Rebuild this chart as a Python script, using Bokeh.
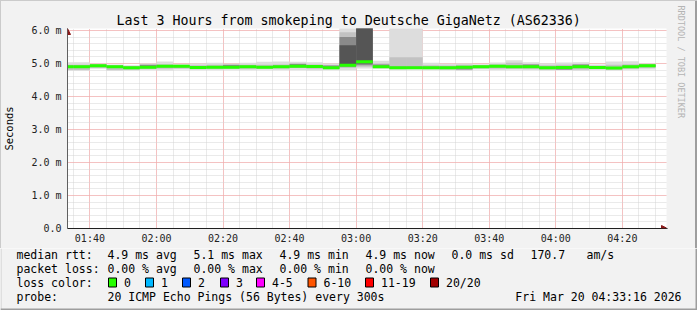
import pandas as pd
from bokeh.plotting import figure
from bokeh.layouts import column
from bokeh.models import ColumnDataSource, FixedTicker, Range1d, Title, Arrow, NormalHead
from bokeh.core.properties import value
from bokeh.embed import file_html
from bokeh.resources import INLINE

# ---------------- data ----------------
title_text = "Last 3 Hours from smokeping to Deutsche GigaNetz (AS62336)"
graph_end = "04:33:16"
span_minutes = 180
step_minutes = 5
step_ends = [t.strftime("%H:%M") for t in pd.date_range("2026-03-20 01:35", "2026-03-20 04:30", freq="5min")]

# median rtt per 5-minute step (ms)
median = [4.90, 4.90, 4.93, 4.90, 4.87, 4.89, 4.92, 4.92, 4.88, 4.89, 4.89, 4.90,
          4.89, 4.90, 4.92, 4.91, 4.87, 4.95, 5.05, 4.90, 4.87, 4.87, 4.87, 4.87,
          4.89, 4.90, 4.92, 4.90, 4.90, 4.87, 4.88, 4.90, 4.88, 4.86, 4.90, 4.93]
# smoke: min / max ping
ping_min = [4.78, 4.78, 4.84, 4.77, 4.79, 4.80, 4.79, 4.82, 4.80, 4.80, 4.81, 4.80,
            4.81, 4.80, 4.80, 4.79, 4.80, 4.80, 4.85, 4.84, 4.81, 4.82, 4.81, 4.80,
            4.78, 4.82, 4.80, 4.81, 4.80, 4.79, 4.80, 4.78, 4.80, 4.79, 4.81, 4.82]
ping_max = [5.04, 5.04, 4.99, 4.97, 4.95, 5.00, 5.06, 4.98, 5.00, 5.02, 4.99, 5.02,
            5.05, 5.06, 5.05, 5.04, 5.00, 6.50, 6.50, 5.08, 6.50, 6.50, 5.02, 4.99,
            5.00, 4.98, 5.03, 5.10, 5.04, 5.01, 5.03, 5.04, 4.97, 5.06, 5.07, 5.00]
# inner smoke layers
ping_q1 = [4.80, 4.80, 4.86, 4.80, 4.81, 4.83, 4.84, 4.85, 4.83, 4.83, 4.84, 4.84,
           4.84, 4.85, 4.86, 4.84, 4.83, 4.86, 4.90, 4.86, 4.84, 4.84, 4.83, 4.82,
           4.81, 4.85, 4.84, 4.84, 4.84, 4.81, 4.83, 4.82, 4.83, 4.81, 4.84, 4.86]
ping_q3 = [4.96, 4.96, 4.97, 4.94, 4.92, 4.96, 4.98, 4.96, 4.95, 4.96, 4.95, 4.96,
           4.96, 4.97, 4.98, 4.97, 4.95, 5.95, 6.50, 5.00, 5.19, 5.19, 4.95, 4.94,
           4.96, 4.95, 4.98, 5.02, 4.98, 4.95, 4.96, 4.98, 4.93, 4.96, 4.98, 4.98]
ping_m_lo = [4.87, 4.87, 4.90, 4.87, 4.84, 4.86, 4.89, 4.89, 4.85, 4.86, 4.86, 4.87,
             4.86, 4.87, 4.89, 4.88, 4.84, 4.90, 4.95, 4.87, 4.84, 4.84, 4.84, 4.84,
             4.82, 4.87, 4.89, 4.87, 4.87, 4.84, 4.81, 4.87, 4.85, 4.83, 4.87, 4.90]
ping_m_hi = [4.93, 4.93, 4.96, 4.93, 4.90, 4.96, 4.95, 4.95, 4.91, 4.92, 4.96, 4.93,
             4.92, 4.93, 4.99, 4.94, 4.94, 5.80, 6.50, 4.97, 4.90, 4.90, 4.90, 4.90,
             4.92, 4.93, 4.95, 4.93, 4.97, 4.90, 4.91, 4.97, 4.91, 4.89, 4.93, 4.96]
ping_d_lo = [4.90, 4.90, 4.93, 4.90, 4.87, 4.89, 4.92, 4.92, 4.88, 4.89, 4.89, 4.90,
             4.89, 4.90, 4.92, 4.91, 4.87, 4.93, 5.00, 4.90, 4.87, 4.87, 4.87, 4.87,
             4.89, 4.90, 4.92, 4.90, 4.90, 4.87, 4.88, 4.90, 4.88, 4.86, 4.90, 4.93]
ping_d_hi = [4.90, 4.90, 4.93, 4.90, 4.87, 4.89, 4.92, 4.92, 4.88, 4.89, 4.89, 4.90,
             4.89, 4.90, 4.92, 4.91, 4.87, 5.55, 6.50, 4.90, 4.87, 4.87, 4.87, 4.87,
             4.89, 4.90, 4.92, 4.90, 4.90, 4.87, 4.88, 4.90, 4.88, 4.86, 4.90, 4.93]

x_tick_labels = ["01:40", "02:00", "02:20", "02:40", "03:00", "03:20", "03:40", "04:00", "04:20"]
y_ticks = [0, 1, 2, 3, 4, 5, 6]
y_tick_labels = ["0.0", "1.0 m", "2.0 m", "3.0 m", "4.0 m", "5.0 m", "6.0 m"]

legend_row1 = ["median rtt:", "4.9 ms avg", "5.1 ms max", "4.9 ms min", "4.9 ms now", "0.0 ms sd", "170.7", "am/s"]
legend_row2 = ["packet loss:", "0.00 % avg", "0.00 % max", "0.00 % min", "0.00 % now"]
loss_labels = ["0", "1", "2", "3", "4-5", "6-10", "11-19", "20/20"]
loss_colors = ["#26ff00", "#00b8ff", "#0059ff", "#7e00ff", "#ff00ff", "#ff5500", "#ff0000", "#a10000"]
probe_text = "20 ICMP Echo Pings (56 Bytes) every 300s"
date_text = "Fri Mar 20 04:33:16 2026"


def tmin(s):
    parts = [int(v) for v in s.split(":")]
    while len(parts) < 3:
        parts.append(0)
    return parts[0] * 60 + parts[1] + parts[2] / 60.0


# ---------------- layout constants ----------------
W, H = 697, 310
MAIN_H = 248
FL, FR, FT, FB = 67, 667, 28, 228   # frame edges in canvas px
MONO = "DejaVu Sans Mono"
BG = "#F2F2F2"
SHADE_A = "#CBCBCB"
SHADE_B = "#9E9E9E"

x_end = tmin(graph_end)
x_start = x_end - span_minutes
px_per_ms = 33.0
y_top = (FB - FT) / px_per_ms

p = figure(width=W, height=MAIN_H, output_backend="svg", toolbar_location=None,
           x_range=Range1d(x_start, x_end), y_range=Range1d(0, y_top),
           min_border_left=FL, min_border_right=W - FR, min_border_top=FT,
           min_border_bottom=MAIN_H - FB)
p.frame_align = False
p.background_fill_color = "#FFFFFF"
p.border_fill_color = None
p.styles = {"background-color": BG,
            "box-shadow": f"inset 1px 1px 0 0 {SHADE_A}, inset -2px 0 0 0 {SHADE_B}"}
p.outline_line_color = None

# title
p.title.text = title_text
p.title.align = "left"
p.title.offset = 49
p.title.standoff = 2
p.title.text_font = MONO
p.title.text_font_size = "13.3px"
p.title.text_font_style = "normal"
p.title.text_color = "#000000"

# side credit
p.add_layout(Title(text="RRDTOOL / TOBI OETIKER", align="left", offset=-23, standoff=19,
                   text_font=MONO, text_font_size="8.5px", text_font_style="normal",
                   text_color="#B4B4B4"), "right")

ends = [tmin(s) for s in step_ends]
starts = [e - step_minutes for e in ends]
half_w = 1.5 / px_per_ms
src = ColumnDataSource(dict(left=starts, right=ends, lo=ping_min, hi=ping_max,
                            q1=ping_q1, q3=ping_q3, mlo=ping_m_lo, mhi=ping_m_hi,
                            dlo=ping_d_lo, dhi=ping_d_hi,
                            mb=[m - half_w for m in median], mt=[m + half_w for m in median]))

p.quad(left="left", right="right", bottom="lo", top="hi", source=src,
       fill_color="#DDDDDD", line_color=None)
p.quad(left="left", right="right", bottom="q1", top="q3", source=src,
       fill_color="#C2C2C2", line_color=None)
p.quad(left="left", right="right", bottom="mlo", top="mhi", source=src,
       fill_color="#8A8A8A", line_color=None)
p.quad(left="left", right="right", bottom="dlo", top="dhi", source=src,
       fill_color="#555555", line_color=None)
p.quad(left="left", right="right", bottom="mb", top="mt", source=src,
       fill_color=loss_colors[0], line_color=None)

# axes / grids
x_ticks = [tmin(s) for s in x_tick_labels]
x_minor = [x_ticks[0] - 20 + step_minutes * k for k in range(0, 45)]
p.xaxis.ticker = FixedTicker(ticks=x_ticks, minor_ticks=x_minor)
p.xaxis.major_label_overrides = {t: l for t, l in zip(x_ticks, x_tick_labels)}
y_minor = [k * 0.2 for k in range(0, 31)]
p.yaxis.ticker = FixedTicker(ticks=y_ticks, minor_ticks=y_minor)
p.yaxis.major_label_overrides = {t: l for t, l in zip(y_ticks, y_tick_labels)}

for ax in (p.xaxis[0], p.yaxis[0]):
    ax.major_tick_in = 0
    ax.major_tick_out = 0
    ax.minor_tick_in = 0
    ax.minor_tick_out = 0
    ax.major_label_text_font = MONO
    ax.major_label_text_font_size = "10px"
    ax.major_label_text_color = "#222222"
p.xaxis.axis_line_color = "#202020"
p.yaxis.axis_line_color = "#606060"
p.xaxis.major_label_standoff = 4
p.yaxis.major_label_standoff = 6
p.yaxis.axis_label = "Seconds"
p.yaxis.axis_label_text_font = MONO
p.yaxis.axis_label_text_font_size = "10.5px"
p.yaxis.axis_label_text_font_style = "normal"
p.yaxis.axis_label_text_color = "#000000"
p.yaxis.axis_label_standoff = 13

for g in (p.xgrid[0], p.ygrid[0]):
    g.grid_line_color = "#FF9A9A"
    g.grid_line_dash = "1 1"
    g.grid_line_width = 1
    g.minor_grid_line_color = "#D4D4D4"
    g.minor_grid_line_dash = "1 1"
    g.minor_grid_line_width = 1

# axis arrow heads (frame-relative screen units)
head_c = "#8B1A1A"
p.add_layout(Arrow(x_start=0, y_start=0, x_end=FR - FL, y_end=0,
                   start_units="screen", end_units="screen", line_color="#202020", line_width=1,
                   end=NormalHead(size=6, fill_color=head_c, line_color=head_c)))
p.add_layout(Arrow(x_start=0, y_start=0, x_end=0, y_end=FB - FT,
                   start_units="screen", end_units="screen", line_color="#606060", line_width=1,
                   end=NormalHead(size=6, fill_color=head_c, line_color=head_c)))

# ---------------- legend block ----------------
LH = H - MAIN_H
q = figure(width=W, height=LH, output_backend="svg", toolbar_location=None,
           x_range=Range1d(0, W), y_range=Range1d(LH, 0),
           x_axis_type=None, y_axis_type=None,
           min_border_left=0, min_border_right=0, min_border_top=0, min_border_bottom=0)
q.frame_align = False
q.background_fill_color = BG
q.border_fill_color = BG
q.outline_line_color = None
q.grid.visible = False

row_y = [254 - MAIN_H, 268 - MAIN_H, 282 - MAIN_H, 296 - MAIN_H]
row1_x = [16, 107, 193, 279, 365, 451, 530, 586]
row2_x = [16, 107, 193, 279, 365]
box_x = [112, 149, 186, 224, 260, 311.5, 369, 434]

tx = row1_x + row2_x + [16] + [b + 11.5 for b in box_x] + [16, 107]
ty = ([row_y[0]] * len(row1_x) + [row_y[1]] * len(row2_x) + [row_y[2]] * (1 + len(box_x))
      + [row_y[3]] * 2)
tt = legend_row1 + legend_row2 + ["loss color:"] + loss_labels + ["probe:", probe_text]
q.text(x=tx, y=ty, text=tt, text_font=value(MONO), text_font_size="11.5px",
       text_baseline="middle", text_align="left", text_color="#000000")
q.text(x=[681], y=[row_y[3]], text=[date_text], text_font=value(MONO), text_font_size="11.5px",
       text_baseline="middle", text_align="right", text_color="#000000")
q.rect(x=box_x, y=[row_y[2]] * len(box_x), width=8, height=9, fill_color=loss_colors,
       line_color="#000000", line_width=1)

# image frame edges of the lower block
q.segment(x0=[0.5, W - 1, 0], y0=[0, 0, LH - 1], x1=[0.5, W - 1, W], y1=[LH, LH, LH - 1],
          line_color=[SHADE_A, SHADE_B, SHADE_B], line_width=[1, 2, 2])

layout = column(p, q, spacing=0)
open("out.html", "w").write(file_html(layout, INLINE))
